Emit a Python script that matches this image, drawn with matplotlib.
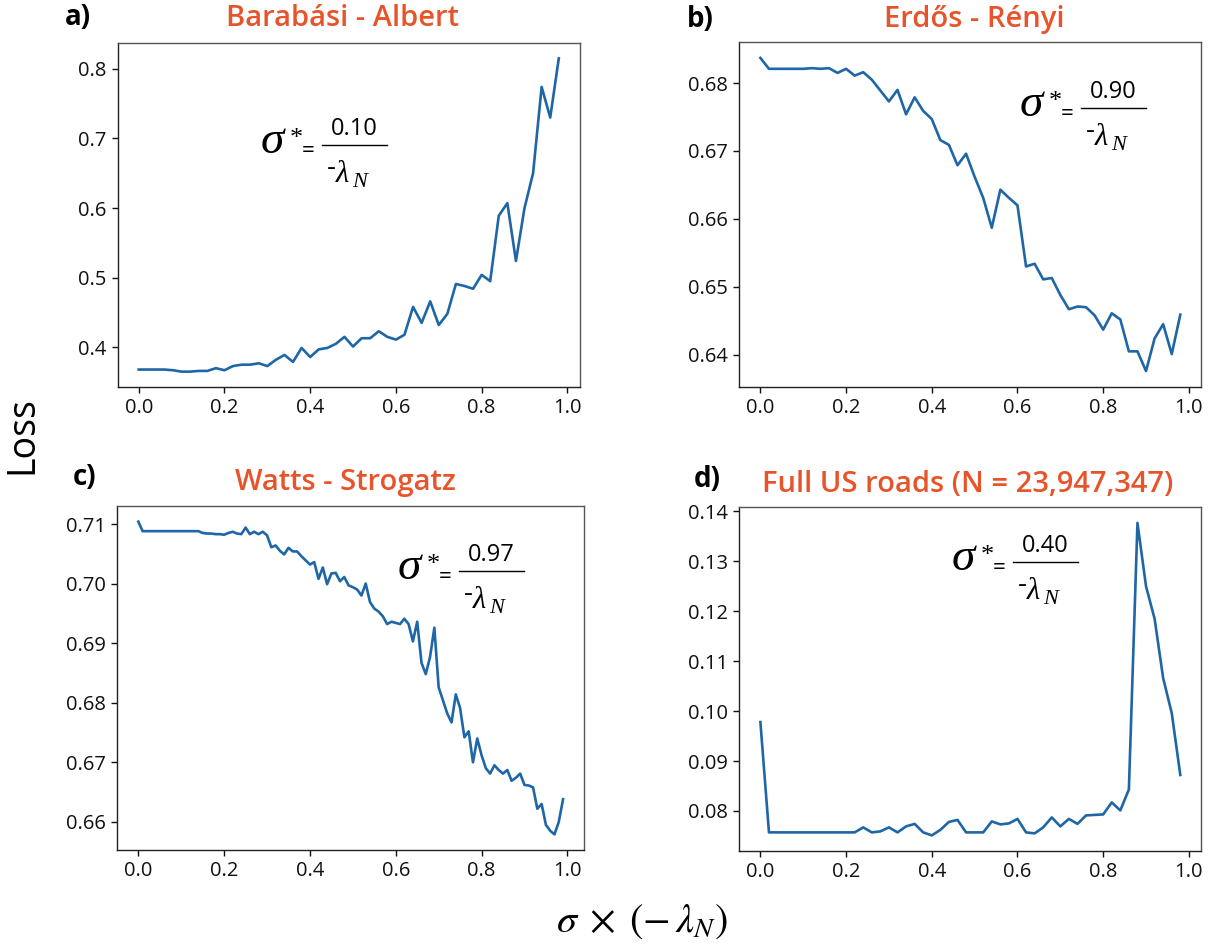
import numpy as np
import matplotlib
matplotlib.use("Agg")
import matplotlib.pyplot as plt
from matplotlib.lines import Line2D

# ---- data -------------------------------------------------------------
sigma_50 = np.linspace(0.0, 0.98, 50)
sigma_100 = np.linspace(0.0, 0.99, 100)

loss_ba = [0.368, 0.368, 0.368, 0.368, 0.367, 0.365, 0.365, 0.366, 0.366, 0.370,
           0.367, 0.373, 0.375, 0.375, 0.377, 0.373, 0.382, 0.389, 0.379, 0.399,
           0.386, 0.397, 0.399, 0.405, 0.415, 0.401, 0.413, 0.413, 0.423, 0.415,
           0.411, 0.418, 0.458, 0.435, 0.466, 0.432, 0.448, 0.491, 0.488, 0.484,
           0.504, 0.495, 0.589, 0.607, 0.524, 0.600, 0.650, 0.774, 0.730, 0.815]

loss_er = [0.6837, 0.6821, 0.6821, 0.6821, 0.6821, 0.6821, 0.6822, 0.6821, 0.6822, 0.6815,
           0.6821, 0.6811, 0.6816, 0.6805, 0.6789, 0.6773, 0.6790, 0.6754, 0.6779, 0.6759,
           0.6747, 0.6716, 0.6709, 0.6679, 0.6696, 0.6662, 0.6631, 0.6587, 0.6643, 0.6631,
           0.6620, 0.6530, 0.6534, 0.6511, 0.6513, 0.6488, 0.6467, 0.6471, 0.6470, 0.6458,
           0.6437, 0.6461, 0.6452, 0.6405, 0.6405, 0.6376, 0.6424, 0.6445, 0.6401, 0.6459]

loss_ws = [0.7104,
           0.7088, 0.7088, 0.7088, 0.7088, 0.7088, 0.7088, 0.7088, 0.7088, 0.7088, 0.7088,
           0.7088, 0.7088, 0.7088, 0.7088,
           0.7085, 0.7084, 0.7084, 0.7083, 0.7083,
           0.7082, 0.7085, 0.7087, 0.7084, 0.7083, 0.7094, 0.7083, 0.7087, 0.7083, 0.7087,
           0.7081, 0.7061, 0.7064, 0.7055, 0.7049, 0.7060, 0.7054, 0.7054, 0.7046, 0.7039,
           0.7032, 0.7036, 0.7008, 0.7027, 0.6999, 0.7017, 0.7018, 0.7004, 0.7011, 0.6997,
           0.6994, 0.6990, 0.6980, 0.7000, 0.6969, 0.6958, 0.6953, 0.6945, 0.6932, 0.6936,
           0.6934, 0.6932, 0.6941, 0.6932, 0.6903, 0.6936, 0.6867, 0.6848, 0.6877, 0.6926,
           0.6826, 0.6804, 0.6782, 0.6767, 0.6814, 0.6791, 0.6742, 0.6752, 0.6700, 0.6740,
           0.6712, 0.6690, 0.6681, 0.6695, 0.6687, 0.6681, 0.6687, 0.6669, 0.6674, 0.6681,
           0.6662, 0.6661, 0.6658, 0.6622, 0.6630, 0.6595, 0.6585, 0.6579, 0.6600, 0.6638]

loss_us = [0.0978, 0.0757, 0.0757, 0.0757, 0.0757, 0.0757, 0.0757, 0.0757, 0.0757, 0.0757,
           0.0757, 0.0757, 0.0767, 0.0757, 0.0759, 0.0767, 0.0757, 0.0769, 0.0774, 0.0757,
           0.0751, 0.0762, 0.0778, 0.0782, 0.0757, 0.0757, 0.0757, 0.0779, 0.0773, 0.0775,
           0.0784, 0.0757, 0.0755, 0.0767, 0.0787, 0.0769, 0.0784, 0.0774, 0.0791, 0.0792,
           0.0793, 0.0817, 0.0801, 0.0843, 0.1377, 0.1250, 0.1185, 0.1066, 0.0996, 0.0872]

titles = ["Barabási - Albert", "Erdős - Rényi", "Watts - Strogatz",
          "Full US roads (N = 23,947,347)"]
letters = ["a)", "b)", "c)", "d)"]
sigma_star = ["0.10", "0.90", "0.97", "0.40"]

# ---- figure -----------------------------------------------------------
W, H = 1217, 951
DPI = 100
fig = plt.figure(figsize=(W / DPI, H / DPI), dpi=DPI)
plt.rcParams["font.family"] = ["Open Sans", "DejaVu Sans"]
plt.rcParams["mathtext.fontset"] = "stix"

LINE = "#1f66a6"
ORANGE = "#e8532a"
SERIF = ["Liberation Serif", "DejaVu Serif"]


def fx(px):
    return px / W


def fy(py):
    return 1 - py / H


def add_axes(left, right, top, bottom):
    return fig.add_axes([fx(left), fy(bottom), (right - left) / W, (bottom - top) / H])


boxes = [(117.7, 579.8, 42.7, 387.3),
         (739.4, 1201.3, 42.3, 386.7),
         (117.1, 584.3, 506.0, 850.0),
         (739.4, 1201.3, 507.3, 851.0)]
series = [(sigma_50, loss_ba), (sigma_50, loss_er), (sigma_100, loss_ws), (sigma_50, loss_us)]

axes = []
for box, (xs, ys) in zip(boxes, series):
    ax = add_axes(*box)
    ax.plot(xs, ys, color=LINE, lw=1.9)
    ax.set_xticks([0.0, 0.2, 0.4, 0.6, 0.8, 1.0])
    ax.tick_params(labelsize=14.5, length=4.5, width=1.0, colors="#111111")
    for s in ax.spines.values():
        s.set_linewidth(1.0)
        s.set_color("#222222")
    ax.spines["top"].set_color("#555555")
    ax.spines["right"].set_color("#555555")
    axes.append(ax)

# panel letters and titles (pixel positions of baselines)
letter_pos = [(78, 25), (700, 27), (85, 485), (707, 487)]
title_pos = [(343, 26), (974, 27), (345, 490), (968, 492)]
for (lx, ly), (tx, ty), let, tt in zip(letter_pos, title_pos, letters, titles):
    fig.text(fx(lx), fy(ly), let, ha="center", va="baseline",
             fontsize=20, fontweight="bold", color="black")
    fig.text(fx(tx), fy(ty), tt, ha="center", va="baseline",
             fontsize=21, fontweight="semibold", color=ORANGE)


def sigma_fraction(L, Y, value):
    """Draw  sigma* = value / (-lambda_N)  with the fraction bar starting at pixel (L, Y)."""
    fig.text(fx(L - 50), fy(Y + 8), "σ", ha="center", va="baseline",
             fontsize=34, family=SERIF, style="italic", color="black")
    fig.text(fx(L - 26), fy(Y - 6), "*", ha="center", va="center",
             fontsize=19, family=SERIF, color="black")
    fig.text(fx(L - 14), fy(Y + 12), "=", ha="center", va="baseline",
             fontsize=16, color="black")
    fig.add_artist(Line2D([fx(L), fx(L + 65)], [fy(Y), fy(Y)],
                          transform=fig.transFigure, color="black", lw=1.0))
    fig.text(fx(L + 32), fy(Y - 10), value, ha="center", va="baseline",
             fontsize=17, color="black")
    fig.text(fx(L + 9), fy(Y + 30), "-", ha="center", va="baseline",
             fontsize=20, color="black")
    fig.text(fx(L + 14), fy(Y + 37), "λ", ha="left", va="baseline",
             fontsize=22, family=SERIF, style="italic", color="black")
    fig.text(fx(L + 30), fy(Y + 42), "N", ha="left", va="baseline",
             fontsize=16, family=SERIF, style="italic", color="black")


frac_pos = [(322, 145), (1081, 108), (459, 571), (1013, 562)]
for (L, Y), val in zip(frac_pos, sigma_star):
    sigma_fraction(L, Y, val)

# shared axis labels
fig.text(fx(22), fy(435), "Loss", rotation=90, ha="center", va="center", fontsize=27)
fig.text(fx(642), fy(921), r"$\sigma\;\times\;(-\,\lambda_N)$", ha="center", va="center",
         fontsize=29)

fig.savefig("out.png", dpi=DPI)
